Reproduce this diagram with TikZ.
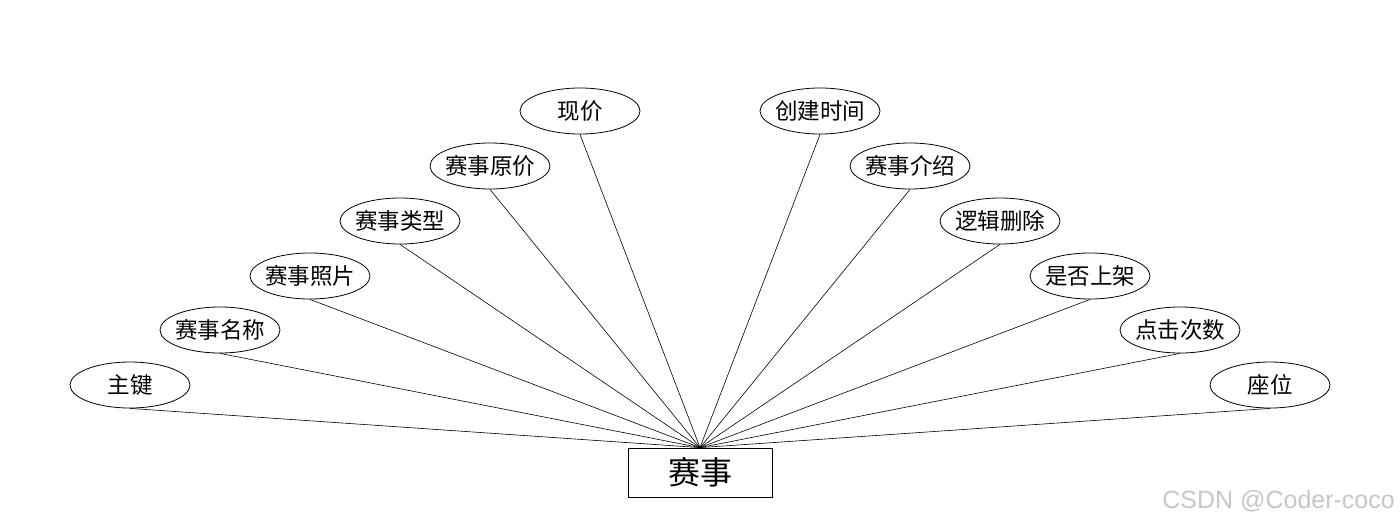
\documentclass[tikz,border=0pt]{standalone}
\usepackage{fontspec}
\setmainfont{Noto Sans CJK SC}
\newfontfamily\wmfont{Liberation Sans}
\usetikzlibrary{shapes.geometric}
\begin{document}
\begin{tikzpicture}[x=1pt,y=-1pt,
  attr/.style={ellipse,draw,line width=0.8pt,minimum width=120pt,minimum height=46pt,inner xsep=-4pt,inner ysep=0pt,font=\fontsize{22.5}{26}\selectfont},
  ent/.style={rectangle,draw,line width=0.8pt,minimum width=144pt,minimum height=49pt,inner sep=0pt,font=\fontsize{32}{38}\selectfont},
  link/.style={line width=0.6pt}]
\useasboundingbox[fill=white] (0,0) rectangle (1400,528);
\node[ent] (e) at (700,472.5) {赛事};
\node[attr] (a1) at (130,385) {主键};
\node[attr] (a2) at (220,330) {赛事名称};
\node[attr] (a3) at (310,276) {赛事照片};
\node[attr] (a4) at (400,221) {赛事类型};
\node[attr] (a5) at (490,166) {赛事原价};
\node[attr] (a6) at (580,111) {现价};
\node[attr] (b1) at (820,111) {创建时间};
\node[attr] (b2) at (910,166) {赛事介绍};
\node[attr] (b3) at (1000,221) {逻辑删除};
\node[attr] (b4) at (1090,276) {是否上架};
\node[attr] (b5) at (1180,330) {点击次数};
\node[attr] (b6) at (1270,385) {座位};
\foreach \n in {a1,a2,a3,a4,a5,a6,b1,b2,b3,b4,b5,b6}
  \draw[link] (\n.south) -- (e.north);
\node[font=\wmfont\fontsize{25}{30}\selectfont,text=black!22,anchor=east,inner sep=0pt] (wm) at (1395,501) {CSDN @Coder-coco};
\end{tikzpicture}
\end{document}
